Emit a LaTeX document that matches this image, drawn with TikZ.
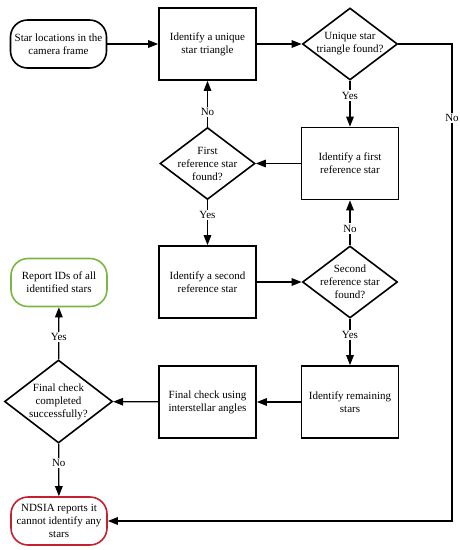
\documentclass[tikz,border=0pt]{standalone}
\usepackage{fontspec}
\setmainfont{Liberation Serif}
\usetikzlibrary{shapes.geometric, arrows.meta}
\definecolor{okgreen}{RGB}{122,182,66}
\definecolor{failred}{RGB}{196,32,48}

\begin{document}
\begin{tikzpicture}[x=1pt,y=1pt,yscale=-1,xscale=1,
  font=\fontsize{11}{13}\selectfont,
  process/.style={draw, line width=1.6pt, minimum width=97pt, minimum height=72pt, align=center, inner sep=0pt},
  decision/.style={draw, diamond, line width=1.6pt, minimum width=95pt, minimum height=72pt, align=center, inner sep=-12pt},
  terminal/.style={draw, line width=1.6pt, rounded corners=17pt, minimum width=96pt, minimum height=48pt, align=center, inner sep=0pt},
  flow/.style={line width=1.3pt, -{Triangle[length=10pt,width=7.5pt]}},
  answer/.style={fill=white, inner sep=1.5pt}]
\useasboundingbox (0,0) rectangle (459,550);

% Terminals
\node [terminal] (start) at (58.5,44) {Star locations in the\\camera frame};
\node [terminal, draw=okgreen] (report) at (59,282.5) {Report IDs of all\\identified stars};
\node [terminal, draw=failred] (fail) at (59,521) {NDSIA reports it\\cannot identify any\\stars};

% Process boxes
\node [process] (uniq) at (207.5,44) {Identify a unique\\star triangle};
\node [process] (first) at (350,163.5) {Identify a first\\reference star};
\node [process] (second) at (207.5,282) {Identify a second\\reference star};
\node [process] (remain) at (350,402) {Identify remaining\\stars};
\node [process] (check) at (207.5,402) {Final check using\\interstellar angles};

% Decisions
\node [decision] (uniqq) at (350,44) {Unique star\\triangle found?};
\node [decision] (firstq) at (207.5,163.5) {First\\reference star\\found?};
\node [decision] (secondq) at (350,282) {Second\\reference star\\found?};
\node [decision, minimum width=108pt, minimum height=83pt] (checkq) at (58.5,401.5) {Final check\\completed\\successfully?};

% Corners of the long return line
\coordinate (cornerA) at (452,44);
\coordinate (cornerB) at (452,521);

% Connectors
\draw [flow] (start) -- (uniq);
\draw [flow] (uniq) -- (uniqq);
\draw [flow] (uniqq) -- node [answer, pos=0.32] {Yes} (first);
\draw [flow] (uniqq.east) -- (cornerA) -- node [answer, pos=0.155] {No} (cornerB) -- (fail.east);
\draw [flow] (first) -- (firstq);
\draw [flow] (firstq) -- node [answer, pos=0.32] {No} (uniq);
\draw [flow] (firstq) -- node [answer, pos=0.33] {Yes} (second);
\draw [flow] (second) -- (secondq);
\draw [flow] (secondq) -- node [answer, pos=0.37] {No} (first);
\draw [flow] (secondq) -- node [answer, pos=0.35] {Yes} (remain);
\draw [flow] (remain) -- (check);
\draw [flow] (check) -- (checkq);
\draw [flow] (checkq) -- node [answer, pos=0.43] {Yes} (report);
\draw [flow] (checkq) -- node [answer, pos=0.37] {No} (fail);

\end{tikzpicture}
\end{document}
